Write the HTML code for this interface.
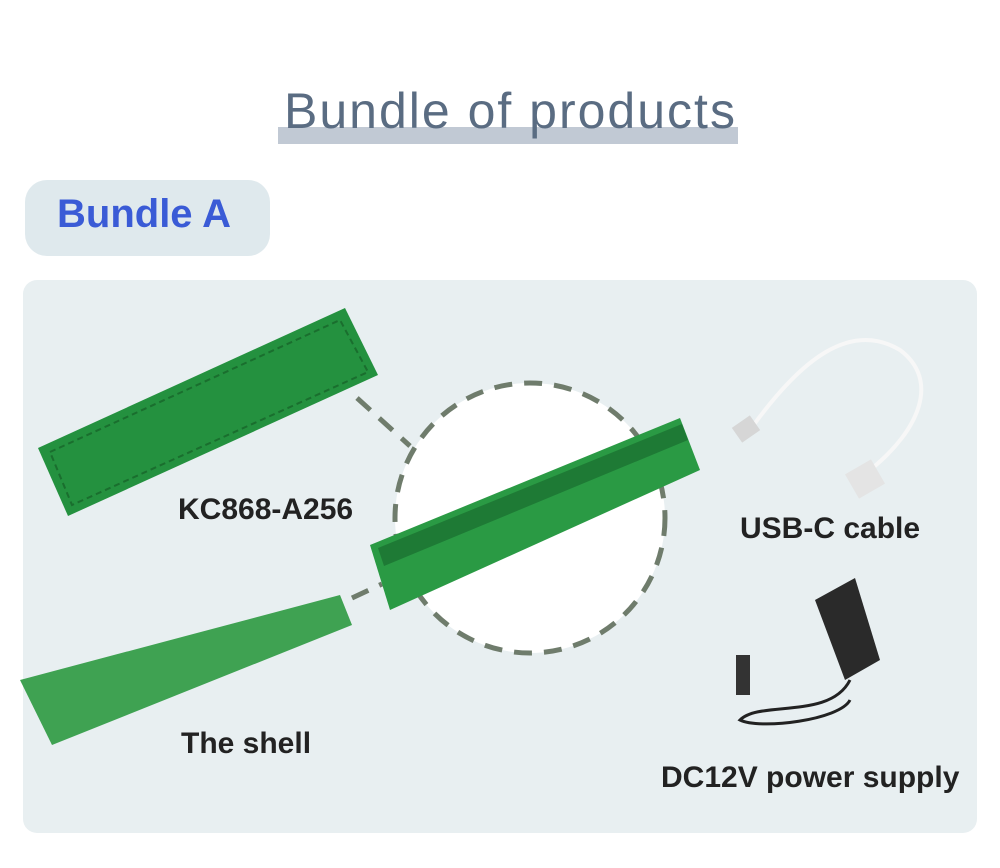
<!DOCTYPE html>
<html><head><meta charset="utf-8"><style>
body{margin:0;width:1000px;height:868px;background:#fff;position:relative;overflow:hidden;font-family:"Liberation Sans",sans-serif}
.t{position:absolute}
.lbl{position:absolute;font-weight:bold;font-size:30px;color:#222;white-space:nowrap}
</style></head><body>
<div class="t" style="left:278px;top:127px;width:460px;height:17px;background:#c1c9d4"></div>
<div class="t" style="left:284px;top:82px;font-size:50px;color:#5a6c82;letter-spacing:2px;white-space:nowrap">Bundle of products</div>
<div class="t" style="left:25px;top:180px;width:245px;height:76px;background:#dfe9ed;border-radius:22px"></div>
<div class="t" style="left:57px;top:192px;font-size:40px;font-weight:bold;color:#3a5bd6">Bundle A</div>
<div class="t" style="left:23px;top:280px;width:954px;height:553px;background:#e8eff1;border-radius:14px"></div>
<svg class="t" style="left:0;top:0" width="1000" height="868">
<circle cx="530" cy="518" r="135" fill="#fff" stroke="#6f7c6c" stroke-width="5" stroke-dasharray="18 12"/>
<line x1="357" y1="398" x2="410" y2="446" stroke="#6f7c6c" stroke-width="5" stroke-dasharray="18 12"/>
<line x1="352" y1="598" x2="382" y2="584" stroke="#6f7c6c" stroke-width="5" stroke-dasharray="18 12"/>
<polygon points="38,448 345,308 378,375 68,516" fill="#24913f"/>
<polygon points="50,452 340,320 368,372 72,505" fill="none" stroke="#1a6e2e" stroke-width="2" stroke-dasharray="6 4"/>
<polygon points="370,545 680,418 700,470 390,610" fill="#2a9a44"/>
<polygon points="378,548 682,424 688,440 384,566" fill="#1e7a35"/>
<polygon points="20,680 340,595 352,625 52,745" fill="#3fa252"/>
<path d="M750,430 C800,360 850,320 900,350 C940,380 920,430 870,470" fill="none" stroke="#f7f7f7" stroke-width="4"/>
<rect x="850" y="465" width="30" height="28" fill="#e4e4e4" transform="rotate(-30 865 479)"/>
<rect x="735" y="420" width="22" height="18" fill="#d6d6d6" transform="rotate(-35 746 429)"/>
<polygon points="815,600 855,578 880,660 845,680" fill="#2a2a2a"/>
<path d="M850,680 C830,720 760,700 740,720 C760,730 840,720 850,700" fill="none" stroke="#222" stroke-width="3"/>
<rect x="736" y="655" width="14" height="40" fill="#333"/>
</svg>
<div class="lbl" style="left:178px;top:493px">KC868-A256</div>
<div class="lbl" style="left:740px;top:512px">USB-C cable</div>
<div class="lbl" style="left:181px;top:727px">The shell</div>
<div class="lbl" style="left:661px;top:761px">DC12V power supply</div>
</body></html>
